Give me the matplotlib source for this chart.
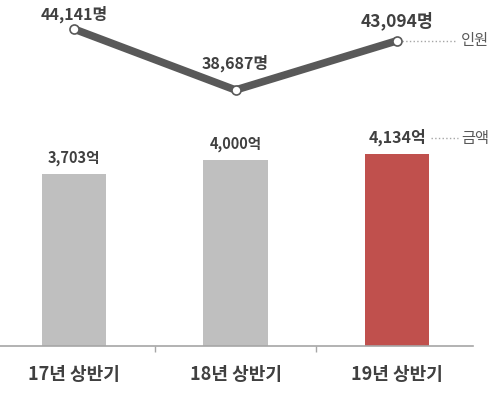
import matplotlib.pyplot as plt

plt.rcParams['font.family'] = ['Noto Sans CJK KR', 'DejaVu Sans']

# ---------------------------------------------------
periods = ["17년 상반기", "18년 상반기", "19년 상반기"]
amount = [3703, 4000, 4134]          # 금액 (억)
people = [44141, 38687, 43094]       # 인원 (명)
amount_labels = ["3,703억", "4,000억", "4,134억"]
people_labels = ["44,141명", "38,687명", "43,094명"]
# ---------------------------------------------------

bar_colors = ["#BFBFBF", "#BFBFBF", "#C0504D"]
text_color = "#404040"

fig = plt.figure(figsize=(5, 3.98), dpi=100)
ax = fig.add_axes([0, 52 / 398, 473 / 500, 346 / 398])
x = list(range(len(periods)))

ax.bar(x, amount, width=0.4, color=bar_colors, zorder=2)
amt_sizes = [10.5, 10.5, 11.5]
for xi, v, lab, fs in zip(x, amount, amount_labels, amt_sizes):
    ax.text(xi, v + 170, lab, ha='center', va='bottom', fontsize=fs,
            fontweight='bold', color=text_color)
ax.set_xlim(-0.458, 2.47)
ax.set_ylim(0, 7441)

for side in ['top', 'right', 'left']:
    ax.spines[side].set_visible(False)
ax.spines['bottom'].set_color('#A6A6A6')
ax.spines['bottom'].set_linewidth(1.2)
ax.set_yticks([])
ax.set_xticks([0.5, 1.5])
ax.set_xticklabels([])
ax.tick_params(axis='x', length=4, color='#A6A6A6', width=1)
for xi, lab in zip(x, periods):
    ax.text(xi, -620, lab, ha='center', va='center', fontsize=13,
            fontweight='bold', color=text_color)

# 금액 legend tag
ax.plot([2.21, 2.38], [4134 + 330, 4134 + 330], ls=':', color='#A6A6A6', lw=1)
ax.text(2.40, 4134 + 330, "금액", ha='left', va='center', fontsize=11, color='#595959')

ax2 = ax.twinx()
ax2.set_position(ax.get_position())
ax2.plot(x, people, color='#595959', lw=5.5, solid_capstyle='round', zorder=3)
ax2.plot(x, people, 'o', ms=6.5, mfc='white', mec='#595959', mew=1.2, zorder=4)
offsets = [1350, 2350, 1750]
ppl_sizes = [11.5, 11.5, 12.5]
for xi, v, lab, off, fs in zip(x, people, people_labels, offsets, ppl_sizes):
    ax2.text(xi, v + off, lab, ha='center', va='center', fontsize=fs,
             fontweight='bold', color=text_color)
ax2.set_ylim(15789, 46737)
ax2.axis('off')

# 인원 legend tag
ax2.plot([2.03, 2.37], [people[2], people[2]], ls=':', color='#A6A6A6', lw=1)
ax2.text(2.395, people[2], "인원", ha='left', va='center', fontsize=11, color='#595959')
ax2.set_xlim(-0.458, 2.47)

fig.savefig("out.png", dpi=100)
